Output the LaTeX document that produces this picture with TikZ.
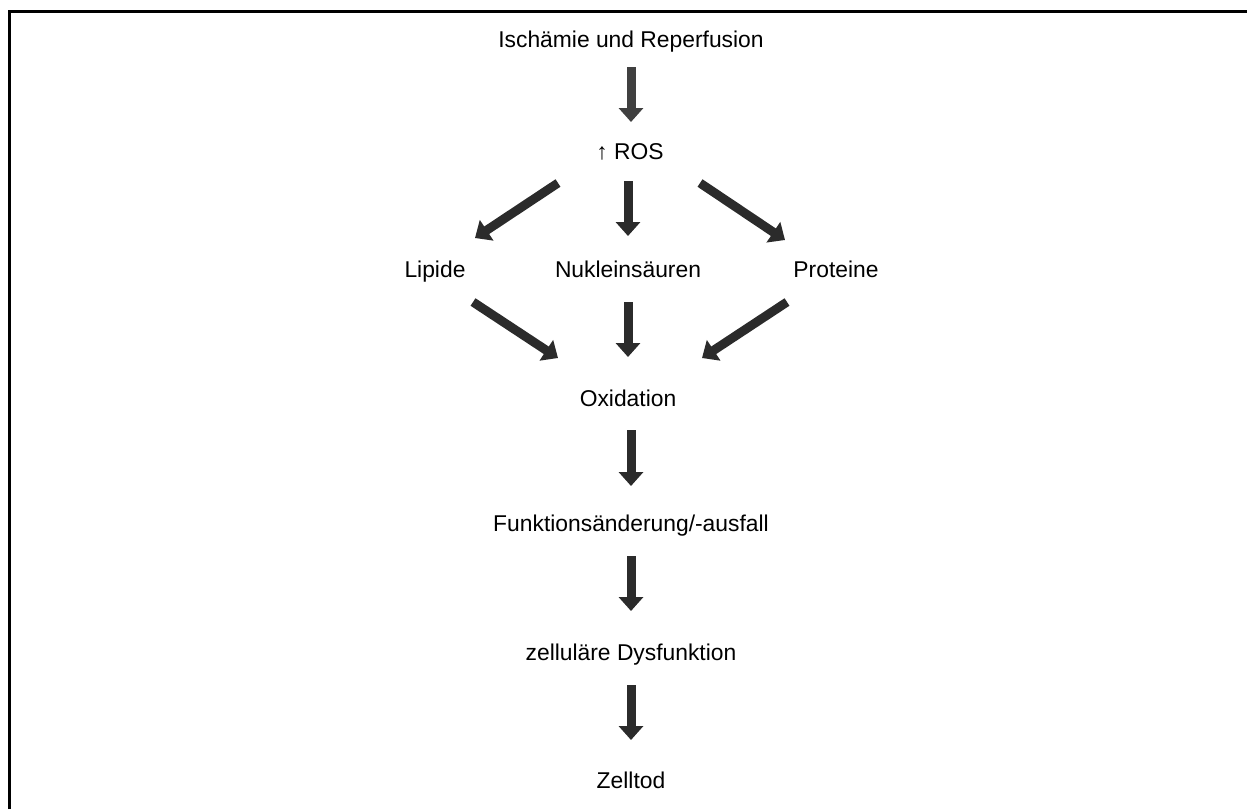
\documentclass[tikz,border=0pt]{standalone}
\usepackage{fontspec}
\setmainfont{Liberation Sans}
\usetikzlibrary{arrows.meta,calc}

\tikzset{
  label/.style={font=\fontsize{13pt}{15pt}\selectfont, inner sep=0pt, text height=9.3pt, text depth=0pt},
  fatarrow/.style={line width=0.18cm, color=black!83, -{Triangle[length=0.28cm,width=0.48cm]}},
  firstarrow/.style={fatarrow, color=black!75}
}

\begin{document}
\begin{tikzpicture}[x=0.02cm, y=-0.02cm]
			%%%%% START %%%%%
			\useasboundingbox (0, 0) rectangle (1247, 809);
			
			\draw[line width=0.06cm] (9.5, 809) -- (9.5, 11.5) -- (1247, 11.5);
			
			\node[label] (isch) at (631, 39) {Ischämie und Reperfusion};
			\node[label] (ros) at (630, 151) {↑ ROS};
			
			\node[label] (lip) at (435, 269) {Lipide};
			\node[label] (nuk) at (628, 269) {Nukleinsäuren};
			\node[label] (pro) at (836, 269) {Proteine};
			
			\node[label] (oxi) at (628, 398) {Oxidation};
			\node[label] (fkt) at (631, 523) {Funktionsänderung/-ausfall};
			\node[label] (dys) at (631, 652) {zelluläre Dysfunktion};
			\node[label] (tod) at (631, 780) {Zelltod};
			
			\draw[firstarrow] ($(isch)+(0, 28)$) -- ($(ros)+(1, -29)$);
			
			\draw[fatarrow] ($(ros)+(-72, 32)$) -- ($(lip)+(40, -31)$);
			\draw[fatarrow] ($(ros)+(-2, 30)$) -- ($(nuk)+(0, -33)$);
			\draw[fatarrow] ($(ros)+(70, 32)$) -- ($(pro)+(-51, -29)$);
			
			\draw[fatarrow] ($(lip)+(38, 33)$) -- ($(oxi)+(-70, -40)$);
			\draw[fatarrow] ($(nuk)+(0, 33)$) -- ($(oxi)+(0, -41)$);
			\draw[fatarrow] ($(pro)+(-49, 33)$) -- ($(oxi)+(74, -40)$);
			
			\draw[fatarrow] ($(oxi)+(3, 32)$) -- ($(fkt)+(0, -37)$);
			\draw[fatarrow] ($(fkt)+(0, 33)$) -- ($(dys)+(0, -41)$);
			\draw[fatarrow] ($(dys)+(0, 33)$) -- ($(tod)+(0, -40)$);
			
			%%%%% END %%%%%
\end{tikzpicture}
\end{document}
